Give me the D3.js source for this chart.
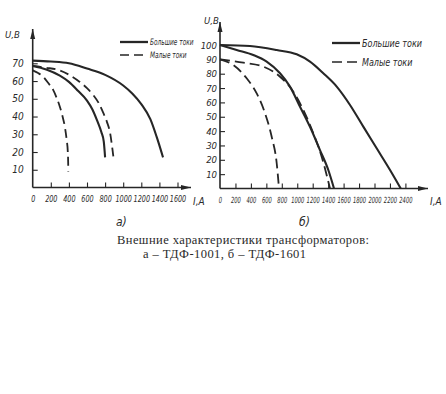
<!DOCTYPE html>
<html>
<head>
<meta charset="utf-8">
<script src="https://cdn.jsdelivr.net/npm/d3@7"></script>
<style>
  body { margin: 0; background: #fff; }
  svg { display: block; }
  .lbl { font-family: "DejaVu Sans Condensed", "Liberation Sans Narrow", sans-serif; font-style: italic; fill: #2a2a2a; }
  .cap { font-family: "Liberation Serif", "DejaVu Serif", serif; fill: #2a2a2a; }
</style>
</head>
<body>
<div id="chart"></div>
<script>
// Chart a) TDF-1001
const ticksA_I = [0, 200, 400, 600, 800, 1000, 1200, 1400, 1600];
const ticksA_U = [10, 20, 30, 40, 50, 60, 70];
const bigSolidA = [[0,71.5],[200,71],[400,70],[600,67],[800,63.5],[1000,57.5],[1100,53],[1200,47],[1300,38.5],[1370,28.5],[1440,17]];
const midSolidA = [[0,68.5],[150,66.5],[300,63],[400,59.5],[500,54.5],[600,49],[660,44],[710,38],[760,31],[785,26],[800,17]];
const outerDashA = [[0,68.5],[150,67.5],[300,66],[420,63],[520,59.5],[600,56],[670,52],[730,47.5],[780,42],[820,37],[856,30.5],[880,22],[892,17]];
const innerDashA = [[0,66],[60,64.5],[115,62.5],[170,59],[226,55],[265,50.5],[300,45.5],[330,40],[356,34],[375,27],[388,20],[392,14],[393,9]];

// Chart б) TDF-1601
const ticksB_I = [0, 200, 400, 600, 800, 1000, 1200, 1400, 1600, 1800, 2000, 2200, 2400];
const ticksB_U = [10, 20, 30, 40, 50, 60, 70, 80, 90, 100];
const bigSolidB = [[0,100],[388,99.3],[734,96.5],[993,93.5],[1165,88.4],[1337,80.3],[1511,71],[1683,58.2],[1855,43.1],[2028,28],[2201,12.9],[2340,0]];
const midSolidB = [[0,100],[216,96.5],[431,93],[604,88.4],[777,80.3],[906,71],[1036,57],[1165,43],[1294,26.8],[1402,12.9],[1476,0]];
const bigDashB = [[0,90],[302,87.7],[561,84.9],[777,77.9],[949,67.5],[1079,54.7],[1208,38.5],[1316,22.2],[1424,0]];
const smallDashB = [[0,90],[172,86],[345,76.8],[475,66.3],[583,52.4],[669,36.1],[734,17.6],[764,0]];

const legendNames = ["Большие токи", "Малые токи"];
const captionLines = ["Внешние характеристики трансформаторов:", "а – ТДФ-1001, б – ТДФ-1601"];

const ink = "#262626";
const W = 446, H = 394;

const svg = d3.select("#chart").append("svg")
    .attr("width", W)
    .attr("height", H);

svg.append("defs").append("marker")
    .attr("id", "arrow")
    .attr("viewBox", "0 0 10 6")
    .attr("refX", 10).attr("refY", 3)
    .attr("markerWidth", 10).attr("markerHeight", 6)
    .attr("markerUnits", "userSpaceOnUse")
    .attr("orient", "auto")
    .append("path")
    .attr("d", "M0,0.5L10,3L0,5.5Z")
    .attr("fill", ink);

function drawPanel(cfg) {
    const x = d3.scaleLinear().domain(cfg.xDomain).range(cfg.xRange);
    const y = d3.scaleLinear().domain(cfg.yDomain).range(cfg.yRange);
    const g = svg.append("g");

    // x axis ticks (pointing up into the plot)
    const xAx = g.append("g")
        .attr("transform", `translate(0,${y(0)})`)
        .call(d3.axisBottom(x).tickValues(cfg.xTicks).tickFormat(d3.format("d"))
            .tickSize(-cfg.tick).tickPadding(cfg.xPad));
    xAx.select(".domain").remove();
    xAx.selectAll("line").attr("stroke", ink).attr("stroke-width", 1.1)
        .filter(d => d === 0).remove();
    // squeeze the labels sideways, they are crowded like in the print
    xAx.selectAll("text").attr("class", "lbl").attr("font-size", cfg.xFont)
        .attr("fill", ink).attr("font-family", null)
        .attr("transform", `scale(${cfg.xSqueeze},1)`);

    // y axis ticks (pointing right into the plot)
    const yAx = g.append("g")
        .attr("transform", `translate(${x(0)},0)`)
        .call(d3.axisLeft(y).tickValues(cfg.yTicks).tickSize(-cfg.tick).tickPadding(cfg.yPad));
    yAx.select(".domain").remove();
    yAx.selectAll("line").attr("stroke", ink).attr("stroke-width", 1.1);
    yAx.selectAll("text").attr("class", "lbl").attr("font-size", cfg.yFont)
        .attr("fill", ink).attr("font-family", null);

    // axis lines with arrows
    g.append("line")
        .attr("x1", x(0)).attr("y1", y(0))
        .attr("x2", cfg.xArrow).attr("y2", y(0))
        .attr("stroke", ink).attr("stroke-width", 1.6)
        .attr("marker-end", "url(#arrow)");
    g.append("line")
        .attr("x1", x(0)).attr("y1", y(0))
        .attr("x2", x(0)).attr("y2", cfg.yArrow)
        .attr("stroke", ink).attr("stroke-width", 1.6)
        .attr("marker-end", "url(#arrow)");

    g.append("text").attr("class", "lbl")
        .attr("x", cfg.iLabel[0]).attr("y", cfg.iLabel[1])
        .attr("font-size", 10).text("I,A");
    g.append("text").attr("class", "lbl")
        .attr("x", cfg.uLabel[0]).attr("y", cfg.uLabel[1])
        .attr("font-size", 9.5).text("U,B");

    const line = d3.line()
        .x(d => x(d[0]))
        .y(d => y(d[1]))
        .curve(d3.curveMonotoneX);

    cfg.curves.forEach(c => {
        g.append("path")
            .attr("d", line(c.data))
            .attr("fill", "none")
            .attr("stroke", ink)
            .attr("stroke-width", c.dashed ? 1.8 : 2.1)
            .attr("stroke-dasharray", c.dashed ? cfg.dash : null);
    });

    // legend
    legendNames.forEach((name, i) => {
        const ly = cfg.legend.y + i * cfg.legend.step;
        g.append("line")
            .attr("x1", cfg.legend.x).attr("x2", cfg.legend.x + cfg.legend.len)
            .attr("y1", ly).attr("y2", ly)
            .attr("stroke", ink)
            .attr("stroke-width", i === 0 ? 2.3 : 1.6)
            .attr("stroke-dasharray", i === 0 ? null : cfg.dash);
        g.append("text").attr("class", "lbl")
            .attr("transform", `translate(${cfg.legend.x + cfg.legend.len + 2},${ly + cfg.legend.font * 0.35}) scale(${cfg.legend.squeeze},1)`)
            .attr("font-size", cfg.legend.font)
            .text(name);
    });

    g.append("text").attr("class", "lbl")
        .attr("x", cfg.sub[0]).attr("y", cfg.sub[1])
        .attr("font-size", 12).text(cfg.sub[2]);
}

drawPanel({
    xDomain: [0, 1600], xRange: [32.7, 177.5],
    yDomain: [0, 70], yRange: [187.5, 63.3],
    xTicks: ticksA_I, yTicks: ticksA_U,
    tick: 5, xPad: 8, yPad: 9, xFont: 9, yFont: 10, xSqueeze: 0.8,
    xArrow: 191, yArrow: 29,
    iLabel: [193, 205], uLabel: [5, 38],
    dash: "9,5",
    curves: [
        {data: bigSolidA, dashed: false},
        {data: midSolidA, dashed: false},
        {data: outerDashA, dashed: true},
        {data: innerDashA, dashed: true}
    ],
    legend: {x: 120, y: 42, step: 13, len: 28, font: 9, squeeze: 0.72},
    sub: [116, 226, "а)"]
});

drawPanel({
    xDomain: [0, 2400], xRange: [220, 405.4],
    yDomain: [0, 100], yRange: [188.5, 45],
    xTicks: ticksB_I, yTicks: ticksB_U,
    tick: 5, xPad: 8, yPad: 3, xFont: 8.5, yFont: 9.5, xSqueeze: 0.68,
    xArrow: 428, yArrow: 22,
    iLabel: [430, 205], uLabel: [204, 24],
    dash: "10,5",
    curves: [
        {data: bigSolidB, dashed: false},
        {data: midSolidB, dashed: false},
        {data: bigDashB, dashed: true},
        {data: smallDashB, dashed: true}
    ],
    legend: {x: 332, y: 43, step: 19, len: 28, font: 10.5, squeeze: 0.85},
    sub: [299, 226, "б)"]
});

// caption
svg.append("text").attr("class", "cap")
    .attr("x", 117).attr("y", 244)
    .attr("font-size", 12.5)
    .attr("textLength", 252).attr("lengthAdjust", "spacing")
    .text(captionLines[0]);
svg.append("text").attr("class", "cap")
    .attr("x", 143).attr("y", 258)
    .attr("font-size", 12.5)
    .attr("textLength", 163).attr("lengthAdjust", "spacing")
    .text(captionLines[1]);
</script>
</body>
</html>
